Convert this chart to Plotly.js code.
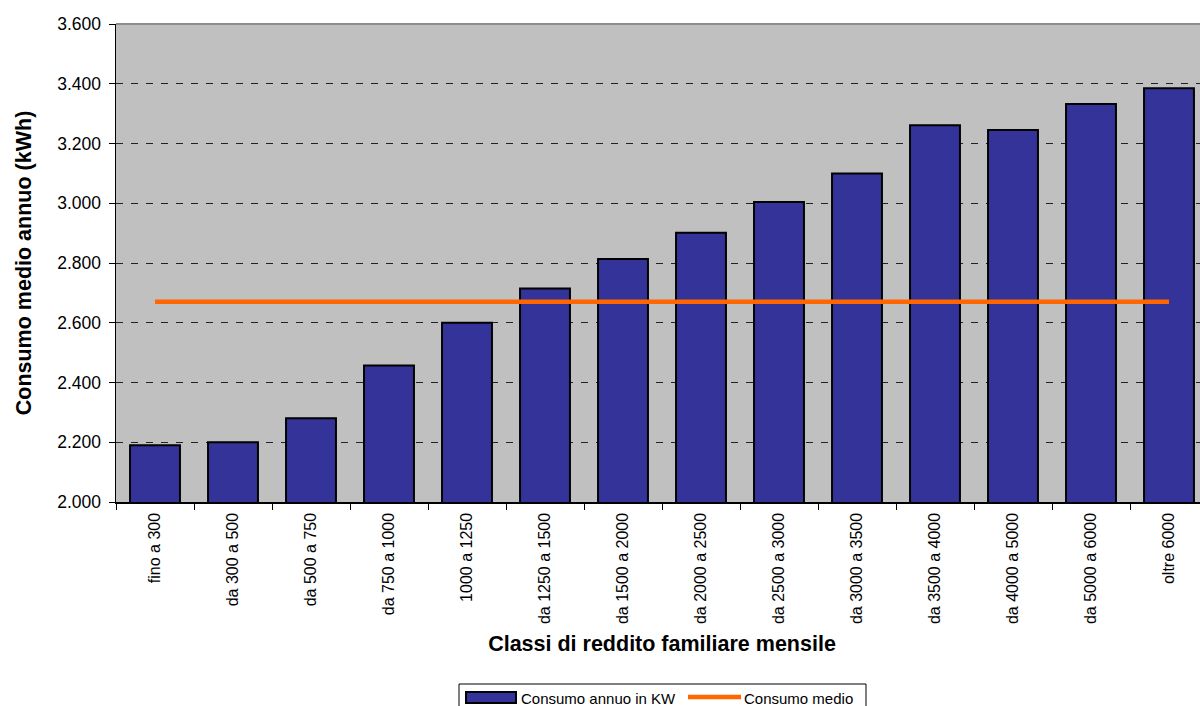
<!DOCTYPE html>
<html>
<head>
<meta charset="utf-8">
<script src="https://cdn.plot.ly/plotly-3.0.1.min.js"></script>
<style>
  html, body { margin: 0; padding: 0; overflow: hidden; background: #fff; }
  #chart { width: 1212px; height: 706px; }
</style>
</head>
<body>
<div id="chart"></div>
<script>
// Income classes (monthly household income, euro)
const categories = [
  'fino a 300', 'da 300 a 500', 'da 500 a 750', 'da 750 a 1000',
  '1000 a 1250', 'da 1250 a 1500', 'da 1500 a 2000', 'da 2000 a 2500',
  'da 2500 a 3000', 'da 3000 a 3500', 'da 3500 a 4000', 'da 4000 a 5000',
  'da 5000 a 6000', 'oltre 6000'
];
// Average yearly consumption per class (kWh)
const consumoAnnuo = [2190, 2200, 2280, 2457, 2600, 2715, 2813, 2901, 3004, 3100, 3261, 3245, 3332, 3385];
// Overall average consumption (kWh)
const consumoMedio = 2670;

const yTicks = [2000, 2200, 2400, 2600, 2800, 3000, 3200, 3400, 3600];

const FONT = 'Liberation Sans, Arial, sans-serif';
const M = { l: 116, r: 4, t: 24, b: 204 };
const W = 1212, H = 706;
const PW = W - M.l - M.r, PH = H - M.t - M.b;
// pixel -> paper helpers for the hand-built legend box
const px = x => (x - M.l) / PW;
const py = y => (H - M.b - y) / PH;

const traces = [
  {
    type: 'bar',
    name: 'Consumo annuo in KW',
    x: categories,
    y: consumoAnnuo,
    width: 0.64,
    marker: { color: '#333399', line: { color: '#000', width: 2 } },
    hoverinfo: 'x+y'
  },
  {
    type: 'scatter',
    mode: 'lines',
    name: 'Consumo medio',
    x: [categories[0], categories[categories.length - 1]],
    y: [consumoMedio, consumoMedio],
    line: { color: '#FF6600', width: 4.5 },
    hoverinfo: 'y'
  }
];

const layout = {
  width: W, height: H,
  margin: M,
  paper_bgcolor: '#fff',
  plot_bgcolor: '#C0C0C0',
  separators: ',.',
  showlegend: false,
  font: { family: FONT, color: '#000' },
  xaxis: {
    type: 'category',
    range: [-0.5, categories.length - 0.5],
    tickangle: -90,
    tickfont: { size: 16, family: FONT, color: '#000' },
    ticks: 'outside', tickson: 'boundaries', ticklen: 6, tickcolor: '#000', tickwidth: 1,
    ticklabelstandoff: 3,
    showline: true, linecolor: '#000', linewidth: 1.5,
    showgrid: false,
    title: { text: 'Classi di reddito familiare mensile', font: { size: 21.5, family: FONT, color: '#000', weight: 'bold' }, standoff: 13 },
    automargin: false
  },
  yaxis: {
    range: [2000, 3600],
    tickvals: yTicks,
    tickformat: ',.0f',
    tickfont: { size: 17.5, family: FONT, color: '#000' },
    ticks: 'outside', ticklen: 6, tickcolor: '#000', tickwidth: 1,
    ticklabelstandoff: 4,
    showline: true, linecolor: '#000', linewidth: 1.5,
    showgrid: true, gridcolor: '#222', gridwidth: 1, griddash: '7px,8px',
    zeroline: false,
    title: { text: 'Consumo medio annuo (kWh)', font: { size: 21.5, family: FONT, color: '#000', weight: 'bold' }, standoff: 19 },
    automargin: false
  },
  shapes: [
    // top border of plot area
    { type: 'line', xref: 'paper', yref: 'paper', x0: 0, x1: 1, y0: 1, y1: 1,
      line: { color: '#8C8C8C', width: 2 } },
    // legend frame
    { type: 'rect', xref: 'paper', yref: 'paper', x0: px(459), x1: px(866), y0: py(684), y1: py(716),
      line: { color: '#000', width: 1 }, fillcolor: '#fff' },
    // legend symbol: bars
    { type: 'rect', xref: 'paper', yref: 'paper', x0: px(466), x1: px(516), y0: py(692), y1: py(703),
      line: { color: '#000', width: 2 }, fillcolor: '#333399' },
    // legend symbol: average line
    { type: 'line', xref: 'paper', yref: 'paper', x0: px(688), x1: px(741), y0: py(697), y1: py(697),
      line: { color: '#FF6600', width: 4.5 } }
  ],
  annotations: [
    { xref: 'paper', yref: 'paper', x: px(519), y: py(698), xanchor: 'left', yanchor: 'middle',
      text: 'Consumo annuo in KW', showarrow: false, font: { size: 15, family: FONT, color: '#000' } },
    { xref: 'paper', yref: 'paper', x: px(742), y: py(698), xanchor: 'left', yanchor: 'middle',
      text: 'Consumo medio', showarrow: false, font: { size: 15, family: FONT, color: '#000' } }
  ]
};

Plotly.newPlot('chart', traces, layout, { staticPlot: true, displayModeBar: false });
</script>
</body>
</html>
